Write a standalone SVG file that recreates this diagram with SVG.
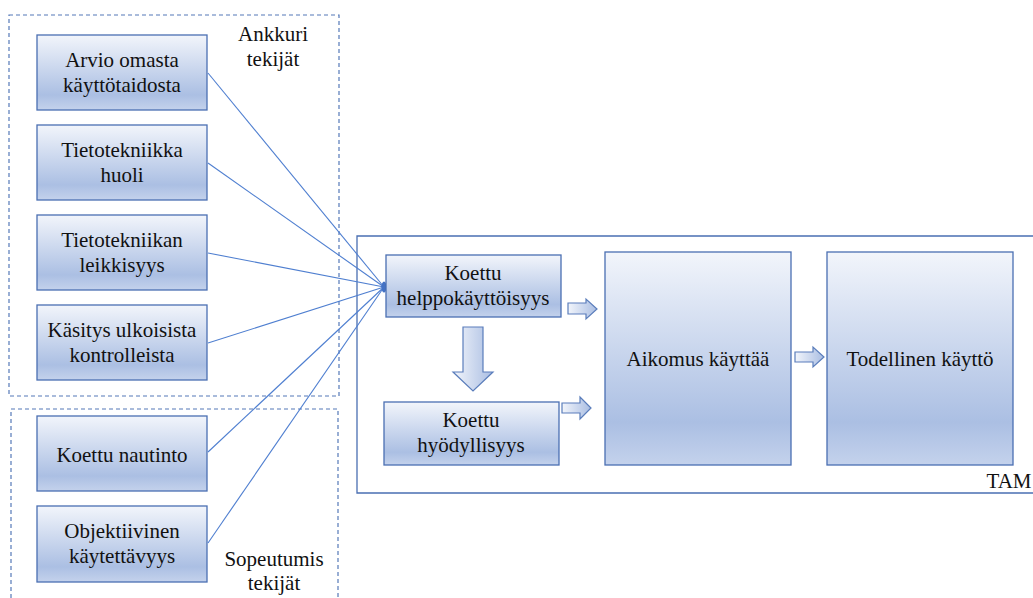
<svg xmlns="http://www.w3.org/2000/svg" width="1033" height="598" viewBox="0 0 1033 598">
  <defs>
    <linearGradient id="boxFill" x1="0" y1="0" x2="0" y2="1">
      <stop offset="0" stop-color="#f2f5fb"/>
      <stop offset="0.8" stop-color="#abbfe3"/>
      <stop offset="1" stop-color="#c4d2ec"/>
    </linearGradient>
    <linearGradient id="arrowFill" x1="0" y1="0" x2="1" y2="0">
      <stop offset="0" stop-color="#f2f5fb"/>
      <stop offset="1" stop-color="#a9bde2"/>
    </linearGradient>
    <style>
      .box { fill: url(#boxFill); stroke: #4a6fb2; stroke-width: 1.3; }
      .group { fill: none; stroke: #5579b8; stroke-width: 1.2; stroke-dasharray: 4 3; }
      .frame { fill: none; stroke: #4a6fb2; stroke-width: 1.3; }
      .arrow { fill: url(#arrowFill); stroke: #5a7dbb; stroke-width: 1.2; }
      .link { fill: none; stroke: #4f7fd0; stroke-width: 1.1; }
      text { font-family: "Liberation Serif", "Times New Roman", serif; font-size: 21px; fill: #111; text-anchor: middle; }
    </style>
  </defs>

  <!-- factor groups -->
  <g id="anchor-group">
    <rect class="group" x="9" y="15" width="330" height="381"/>
    <text x="273" y="41">Ankkuri</text>
    <text x="273" y="66">tekijät</text>
  </g>
  <g id="adjust-group">
    <path class="group" d="M11 598 V409 H338 V598"/>
    <text x="274" y="566">Sopeutumis</text>
    <text x="274" y="590">tekijät</text>
  </g>

  <!-- TAM frame -->
  <g id="tam">
    <path class="frame" d="M1033 236 H357 V493 H1033"/>
    <text x="1009" y="488">TAM</text>
  </g>

  <!-- connectors -->
  <g id="connectors">
    <line class="link" x1="208" y1="73" x2="384" y2="287"/>
    <line class="link" x1="208" y1="163" x2="384" y2="287"/>
    <line class="link" x1="208" y1="253" x2="384" y2="287"/>
    <line class="link" x1="208" y1="343" x2="384" y2="287"/>
    <line class="link" x1="208" y1="452" x2="384" y2="287"/>
    <line class="link" x1="208" y1="543" x2="384" y2="287"/>
    <ellipse cx="384" cy="287" rx="2.5" ry="5.5" fill="#4472c4"/>
    <path class="arrow" d="M568 303 H586 V299 L597 309 L586 319 V314 H568 Z"/>
    <path class="arrow" d="M562 403 H580 V397 L591 408 L580 419 V413 H562 Z"/>
    <path class="arrow" d="M795 352 H813 V347 L824 357 L813 367 V362 H795 Z"/>
    <path class="arrow" d="M463 327 H483 V372 H493 L473 391 L453 372 H463 Z"/>
  </g>

  <!-- factor nodes -->
  <g id="n-arvio">
    <rect class="box" x="37" y="35" width="170" height="75"/>
    <text x="122" y="67">Arvio omasta</text>
    <text x="122" y="92">käyttötaidosta</text>
  </g>
  <g id="n-huoli">
    <rect class="box" x="37" y="125" width="170" height="75"/>
    <text x="122" y="157">Tietotekniikka</text>
    <text x="122" y="182">huoli</text>
  </g>
  <g id="n-leikkisyys">
    <rect class="box" x="37" y="215" width="170" height="75"/>
    <text x="122" y="247">Tietotekniikan</text>
    <text x="122" y="272">leikkisyys</text>
  </g>
  <g id="n-kontrollit">
    <rect class="box" x="37" y="305" width="170" height="75"/>
    <text x="122" y="337">Käsitys ulkoisista</text>
    <text x="122" y="362">kontrolleista</text>
  </g>
  <g id="n-nautinto">
    <rect class="box" x="37" y="416" width="170" height="75"/>
    <text x="122" y="462">Koettu nautinto</text>
  </g>
  <g id="n-kaytettavyys">
    <rect class="box" x="37" y="506" width="170" height="76"/>
    <text x="122" y="538">Objektiivinen</text>
    <text x="122" y="563">käytettävyys</text>
  </g>

  <!-- TAM nodes -->
  <g id="n-helppo">
    <rect class="box" x="386" y="255" width="175" height="62"/>
    <text x="473" y="280">Koettu</text>
    <text x="473" y="305">helppokäyttöisyys</text>
  </g>
  <g id="n-hyoty">
    <rect class="box" x="384" y="402" width="175" height="63"/>
    <text x="471" y="427">Koettu</text>
    <text x="471" y="452">hyödyllisyys</text>
  </g>
  <g id="n-aikomus">
    <rect class="box" x="605" y="252" width="186" height="213"/>
    <text x="698" y="366">Aikomus käyttää</text>
  </g>
  <g id="n-kaytto">
    <rect class="box" x="827" y="252" width="186" height="213"/>
    <text x="920" y="366">Todellinen käyttö</text>
  </g>
</svg>
